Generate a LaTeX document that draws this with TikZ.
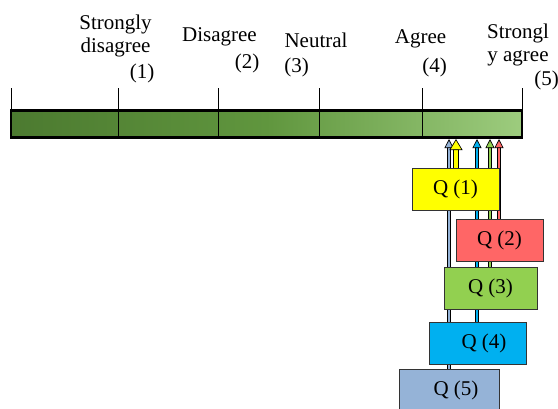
\documentclass[tikz,border=0pt]{standalone}
\usepackage{fontspec}
\setmainfont{Liberation Serif}
\usepackage{xcolor}
\usetikzlibrary{arrows.meta}
\usetikzlibrary{backgrounds}

\definecolor{bardark}{RGB}{76,122,48}
\definecolor{barmid}{RGB}{96,150,62}
\definecolor{barlight}{RGB}{157,204,126}
\definecolor{qyellow}{RGB}{255,255,0}
\definecolor{qred}{RGB}{255,102,102}
\definecolor{qgreen}{RGB}{146,208,80}
\definecolor{qblue}{RGB}{0,176,240}
\definecolor{qsky}{RGB}{149,179,215}

\begin{document}
\begin{tikzpicture}[x=1,y=-1,
	every node/.style={font=\fontsize{21}{23}\selectfont},
	scalebar/.style={draw=black, line width=2.4pt, left color=bardark, right color=barlight, middle color=barmid, minimum width=511, minimum height=27, inner sep=0},
	tick/.style={line width=1pt},
	txt/.style={inner sep=0pt, align=center},
	qbox/.style={draw=black!80, line width=0.8pt, fill=#1, minimum height=42, inner sep=0},
	qarrow/.style={draw=#1, line width=2.2pt, -{Triangle[length=9,width=9,fill=#1,color=black,line width=0.7pt]},
		preaction={draw=black, line width=3.8pt, -, shorten >=7}},
	bigarrow/.style={draw=#1, line width=4.6pt, -{Triangle[length=11,width=13,fill=#1,color=black,line width=0.7pt]},
		preaction={draw=black, line width=6.2pt, -, shorten >=9}}]

\useasboundingbox (0,0) rectangle (558,408);

% the scale
\node[scalebar] (bar) at (266.5,124) {};
\foreach \x in {11,118,218,319,422,522}{
	\draw[tick] (\x,88) -- (\x,137);
}

% scale labels
\node[txt] (sd) at (115.5,35.5) {Strongly\\disagree};
\node[txt] (sdn) at (142,73) {(1)};
\node[txt] (d) at (219.5,37) {Disagree};
\node[txt] (dn) at (247,63) {(2)};
\node[txt] (n) at (316,40) {Neutral};
\node[txt] (nn) at (296.5,67) {(3)};
\node[txt] (a) at (420.5,39) {Agree};
\node[txt] (an) at (434.5,67) {(4)};
\node[txt] (sa) at (518,44.5) {Strongl\\y agree};
\node[txt] (san) at (546.5,80) {(5)};

% the questions
\node[qbox=qyellow, minimum width=87] (q1) at (455.5,189) {Q (1)};
\node[qbox=qred, minimum width=87] (q2) at (499.5,240.5) {Q (2)};
\node[qbox=qgreen, minimum width=93] (q3) at (490.5,288) {Q (3)};
\node[qbox=qblue, minimum width=97] (q4) at (477.5,343) {\hspace*{13pt}Q (4)};
\node[qbox=qsky, minimum width=100] (q5) at (449,390) {\hspace*{14pt}Q (5)};

% where each answer lands on the scale
\coordinate (t1) at (456,139);
\coordinate (t2) at (499,139);
\coordinate (t3) at (490,139);
\coordinate (t4) at (477,139);
\coordinate (t5) at (449,139);

\begin{pgfonlayer}{background}
\draw[qarrow=qsky] (q5.north -| t5) -- (t5);
\draw[qarrow=qblue] (q4.north -| t4) -- (t4);
\draw[qarrow=qgreen] (q3.north -| t3) -- (t3);
\draw[qarrow=qred] (q2.north -| t2) -- (t2);
\draw[bigarrow=qyellow] (q1.north -| t1) -- (t1);
\end{pgfonlayer}

\end{tikzpicture}
\end{document}
